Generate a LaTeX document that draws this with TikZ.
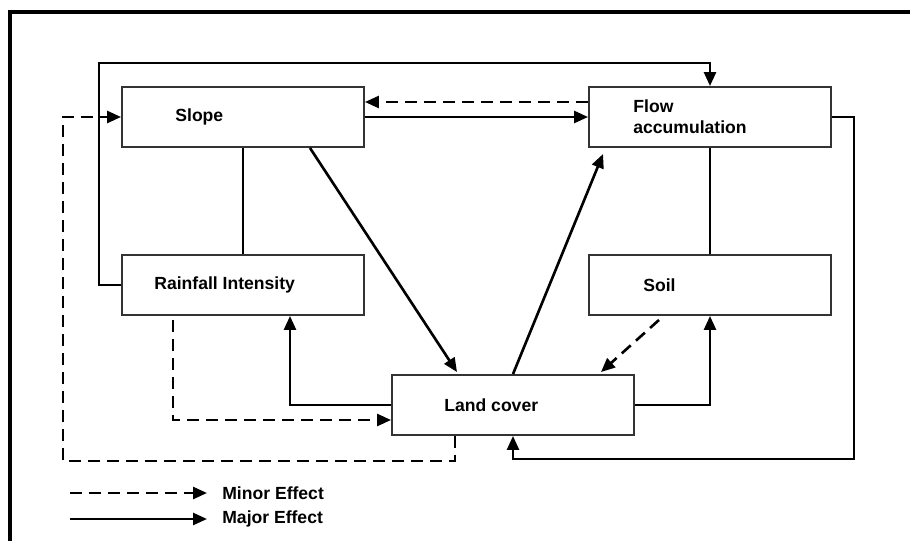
\documentclass[tikz,border=0pt]{standalone}
\usepackage{fontspec}
\setmainfont{Liberation Sans}
\usetikzlibrary{arrows.meta}
\usetikzlibrary{positioning}

\definecolor{boxgray}{rgb}{0.2, 0.2, 0.2}

\tikzset{
    box/.style={draw=boxgray, line width=1.1pt, minimum width=4.84cm, minimum height=1.2cm, inner sep=0pt},
    lbl/.style={font=\fontsize{10}{12}\selectfont\bfseries, align=left, inner sep=0pt},
    major/.style={line width=1.5pt, -{Triangle[length=0.28cm, width=0.24cm]}},
    minor/.style={major, dash pattern=on 0.24cm off 0.14cm},
    link/.style={line width=1.5pt}
}

\begin{document}
\begin{tikzpicture}[x=0.02cm, y=-0.02cm]

    \clip (0,0) rectangle (910,541);
    \fill[white] (0,0) rectangle (910,541);
    \draw[line width=2.2pt] (10,12) rectangle (930,560);

    \node[box] (slope) at (243,117) {};
    \node[box] (flow) at (710,117) {};
    \node[box] (rain) at (243,285) {};
    \node[box] (soil) at (710,285) {};
    \node[box] (land) at (513,405) {};

    \node[lbl, anchor=west, right=1.08cm of slope.west] {Slope};
    \node[lbl, anchor=west, right=0.9cm of flow.west] {Flow\\accumulation};
    \node[lbl, anchor=west, right=0.66cm of rain.west] {Rainfall Intensity};
    \node[lbl, anchor=west, right=1.1cm of soil.west] {Soil};
    \node[lbl, anchor=west, right=1.06cm of land.west] {Land cover};

    \coordinate (topturn) at (99,63);
    \coordinate (rightturn) at (854,459);
    \coordinate (leftturn) at (63,461);

    \draw[major] (rain.west) -| (topturn) -| (flow.north);
    \draw[minor] ([yshift=0.3cm]flow.west) -- ([yshift=0.3cm]slope.east);
    \draw[major] (slope.east) -- (flow.west);
    \draw[link] (slope.south) -- (rain.north);
    \draw[major] ([xshift=1.34cm]slope.south) -- ([xshift=-1.12cm, yshift=0.04cm]land.north);
    \draw[major] (land.north) -- ([shift={(0.3cm,-0.12cm)}]flow.south west);
    \draw[link] (flow.south) -- (soil.north);
    \draw[major] (flow.east) -| (rightturn) -| (land.south);
    \draw[minor] ([xshift=-1.02cm, yshift=-0.08cm]soil.south) -- ([xshift=1.76cm, yshift=0.04cm]land.north);
    \draw[major] (land.east) -| (soil.south);
    \draw[major] (land.west) -| ([xshift=0.94cm]rain.south);
    \draw[minor] ([xshift=-1.4cm, yshift=-0.08cm]rain.south) |- ([yshift=-0.3cm]land.west);
    \draw[minor] ([xshift=-1.16cm]land.south) |- (leftturn) |- (slope.west);

    % legend
    \node[lbl, anchor=west] (minortxt) at (222,493) {Minor Effect};
    \node[lbl, anchor=west] (majortxt) at (222,519) {Major Effect};
    \coordinate (minorstart) at (70,493);
    \coordinate (majorstart) at (70,519);
    \draw[minor] (minorstart) -- ([xshift=-0.3cm]minortxt.west);
    \draw[major] (majorstart) -- ([xshift=-0.3cm]majortxt.west);

\end{tikzpicture}
\end{document}
